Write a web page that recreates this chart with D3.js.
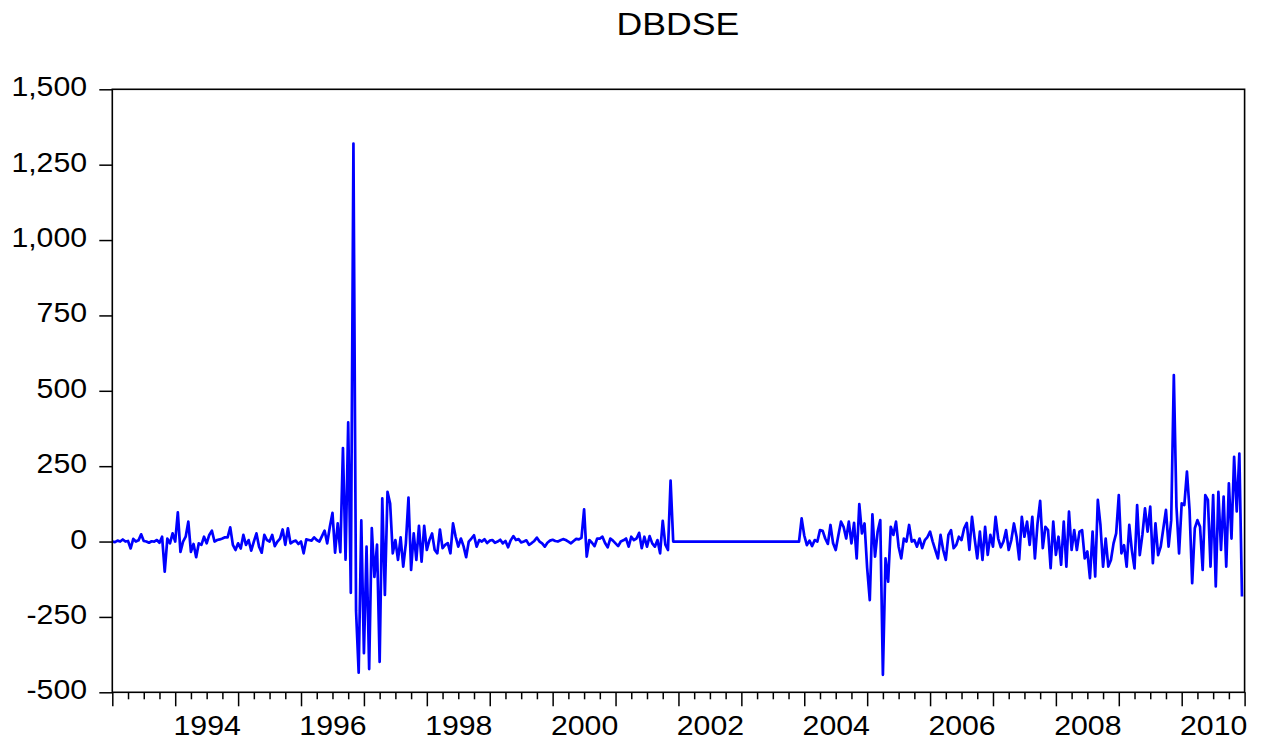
<!DOCTYPE html>
<html>
<head>
<meta charset="utf-8">
<script src="https://cdn.jsdelivr.net/npm/d3@7"></script>
<style>
  html, body { margin: 0; padding: 0; background: #fff; }
  svg { display: block; }
</style>
</head>
<body>
<svg id="chart" width="1264" height="742"></svg>
<script>
// Weekly DSE series, sampled twice a month (24 observations per year), 1993-2010.
const chartTitle = "DBDSE";
const startYear = 1993;
const endYear = 2011;
const obsPerYear = 24;

const v1993 = [0, -2, 3, 0, 7, 0, 2, -23, 9, 0, 4, 24, 2, 0, -4, 1, 0, 5, -4, 16, -100, 10, -6, 27];
const v1994 = [0, 97, -34, 0, 16, 66, -34, -8, -52, -6, -11, 16, -6, 22, 36, 0, 5, 7, 10, 14, 14, 47, -11, -28];
const v1995 = [-6, -23, 22, -11, 5, -30, 0, 27, -17, -37, 22, 5, 0, 22, -15, 0, 10, 40, -11, 44, -6, 0, 3, -8];
const v1996 = [0, -39, 7, 5, 3, 14, 5, 0, 18, 36, -6, 49, 95, -37, 60, -35, 310, -60, 395, -170, 1320, -230, -435, 70];
const v1997 = [-370, -17, -423, 45, -117, -10, -399, 143, -177, 165, 126, -39, 5, -61, 14, -83, -6, 146, -94, 27, -61, 52, -67, 52];
const v1998 = [-28, 5, 27, -28, -39, 40, -22, -11, -5, -39, 60, 16, -17, 10, -15, -52, 0, 10, 21, -17, 5, 0, 8, -5];
const v1999 = [3, 5, -4, 0, 6, -6, 2, -19, 4, 18, 5, 8, -3, 0, 4, -11, -5, 2, 13, 0, -6, -17, -4, 3];
const v2000 = [6, 2, 0, 4, 8, 5, 0, -6, 2, 9, 7, 12, 107, -50, 5, -4, -15, 10, 10, 16, -5, -19, 10, 3];
const v2001 = [-6, -15, 0, 4, 10, -17, 16, 5, 10, 29, -22, 16, -17, 18, -6, -17, 5, -39, 69, -10, -28, 202, 0, 0];
const v2002 = [0, 0, 0, 0, 0, 0, 0, 0, 0, 0, 0, 0, 0, 0, 0, 0, 0, 0, 0, 0, 0, 0, 0, 0];
const v2003 = [0, 0, 0, 0, 0, 0, 0, 0, 0, 0, 0, 0, 0, 0, 0, 0, 0, 0, 0, 0, 0, 0, 0, 77];
const v2004 = [20, -12, 3, -15, 5, 0, 38, 36, 10, -8, 55, -6, -28, 20, 66, 49, 10, 66, -6, 62, -56, 124, 27, 60];
const v2005 = [-88, -194, 90, -50, 33, 71, -442, -56, -133, 49, 22, 66, -17, -56, 10, 0, 55, 0, 5, -17, 10, -22, 5, 15];
const v2006 = [33, 0, -28, -56, 22, -28, -61, 22, 38, -22, -11, 16, 5, 44, 62, -28, 82, 10, -56, 33, -61, 49, -44, 22];
const v2007 = [-17, 82, 10, -19, 0, 38, -28, 5, 60, 16, -59, 82, 16, 66, -11, 82, -56, 60, 135, -22, 49, 38, -88, 66];
const v2008 = [-44, 16, -77, 66, -83, 99, -28, 38, -28, 33, 38, -56, -33, -121, 33, -116, 138, 55, -83, 10, -83, -61, -6, 27];
const v2009 = [154, -39, -12, -83, 55, -30, -89, 121, -45, 22, 110, 33, 116, -72, 60, -45, -17, 44, 105, -17, 71, 552, 116, -39];
const v2010 = [127, 121, 232, 105, -138, 44, 71, 49, -94, 154, 138, -83, 154, -149, 165, -28, 149, -83, 193, 10, 281, 100, 292, -182];

const series = [].concat(v1993, v1994, v1995, v1996, v1997, v1998, v1999, v2000, v2001,
                         v2002, v2003, v2004, v2005, v2006, v2007, v2008, v2009, v2010);

const yTickValues = [-500, -250, 0, 250, 500, 750, 1000, 1250, 1500];
const yearLabels = [1994, 1996, 1998, 2000, 2002, 2004, 2006, 2008, 2010];

// ---- layout ----
const plot = { left: 112.3, right: 1244.6, top: 89.3, bottom: 692.3 };
const fontFamily = '"Liberation Sans", Arial, Helvetica, sans-serif';
const textStretch = 1.08;

const svg = d3.select("#chart");

const x = d3.scaleLinear().domain([startYear, endYear]).range([plot.left, plot.right]);
const y = d3.scaleLinear().domain([-500, 1500]).range([plot.bottom, plot.top]);

const fmt = d3.formatLocale({ decimal: ".", thousands: ",", grouping: [3], currency: ["", ""], minus: "-" }).format(",");

// title
svg.append("text")
  .attr("transform", `translate(678,35) scale(1.15,1)`)
  .attr("text-anchor", "middle")
  .attr("font-family", fontFamily)
  .attr("font-size", 31)
  .attr("fill", "#000")
  .text(chartTitle);

// y axis
const yAxis = svg.append("g")
  .attr("transform", `translate(${plot.left},0)`)
  .call(d3.axisLeft(y).tickValues(yTickValues).tickSize(13).tickSizeOuter(0).tickPadding(10.4).tickFormat(fmt));
yAxis.select(".domain").remove();
yAxis.selectAll("line").attr("stroke", "#000").attr("stroke-width", 1.5);
yAxis.selectAll("text")
  .attr("font-family", fontFamily).attr("font-size", 28).attr("fill", "#000")
  .attr("dy", 6.5)
  .attr("transform", `scale(${textStretch},1)`);

// x axis: quarterly minor ticks, yearly major ticks, labels centred on every other year
const quarters = d3.range(startYear * 4, endYear * 4 + 1).filter(q => q % 4 !== 0).map(q => q / 4);
const years = d3.range(startYear, endYear + 1);

const xMinor = svg.append("g")
  .attr("transform", `translate(0,${plot.bottom})`)
  .call(d3.axisBottom(x).tickValues(quarters).tickSize(7).tickSizeOuter(0).tickFormat(""));
const xMajor = svg.append("g")
  .attr("transform", `translate(0,${plot.bottom})`)
  .call(d3.axisBottom(x).tickValues(years).tickSize(14).tickSizeOuter(0).tickFormat(""));
const xLabels = svg.append("g")
  .attr("transform", `translate(0,${plot.bottom})`)
  .call(d3.axisBottom(x).tickValues(yearLabels.map(yr => yr + 0.5)).tickSize(0).tickSizeOuter(0)
        .tickPadding(22.7).tickFormat(d => String(Math.floor(d))));
[xMinor, xMajor, xLabels].forEach(g => {
  g.select(".domain").remove();
  g.selectAll("line").attr("stroke", "#000").attr("stroke-width", 1.5);
});
xLabels.selectAll("text")
  .attr("font-family", fontFamily).attr("font-size", 28).attr("fill", "#000")
  .attr("transform", `scale(${textStretch},1)`);

// series line
const line = d3.line()
  .x((d, i) => x(startYear + i / obsPerYear))
  .y(d => y(d));

svg.append("path")
  .datum(series)
  .attr("d", line)
  .attr("fill", "none")
  .attr("stroke", "#0000FF")
  .attr("stroke-width", 2.7)
  .attr("stroke-linejoin", "round");

// frame
svg.append("rect")
  .attr("x", plot.left).attr("y", plot.top)
  .attr("width", plot.right - plot.left).attr("height", plot.bottom - plot.top)
  .attr("fill", "none").attr("stroke", "#000").attr("stroke-width", 1.6);
</script>
</body>
</html>
